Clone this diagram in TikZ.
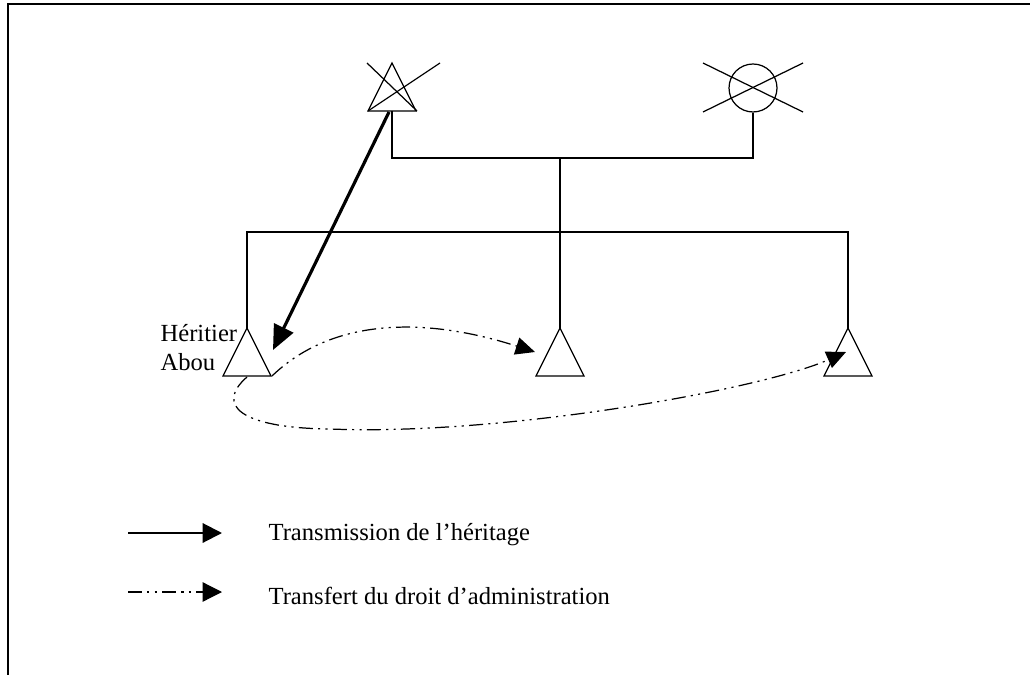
\documentclass[tikz,border=0pt]{standalone}
\usepackage{fontspec}
\setmainfont{Liberation Serif}
\usetikzlibrary{arrows.meta}

\tikzset{
    dashdotdot/.style = {dash pattern = on 8pt off 3pt on 1.2pt off 3pt on 1.2pt off 3pt},
    heritage/.style = {line width = 1.8pt, -{Triangle[length = 14pt, width = 12pt]}},
    transfert/.style = {line width = 0.7pt, dashdotdot, -{Triangle[length = 11pt, width = 10pt]}},
    every node/.append style = {font = \fontsize{14pt}{16.5pt}\selectfont}
}
\newcommand{\homme}[1]{\draw (#1) -- ++(24,48) -- ++(-48,0) -- cycle;}

\begin{document}
\begin{tikzpicture}[x = 0.02cm, y = -0.02cm, line width = 0.7pt]
    \useasboundingbox (0,0) rectangle (1030,675);
    % cadre
    \draw[line width = 1.1pt] (1030,4) -- (8,4) -- (8,675);

    % grands-parents (decedes)
    \coordinate (grandpere) at (392,63);
    \coordinate (gp-pied) at (392,111);
    \homme{grandpere}
    \draw (grandpere) ++(-25,0) -- ++(50,48);
    \draw (grandpere) ++(48,0) -- ++(-72,48);
    \node[circle, draw, minimum size = 0.96cm, inner sep = 0pt] (grandmere) at (753,88) {};
    \draw ([shift = {(-50,-25)}]grandmere.center) -- ++(100,49);
    \draw ([shift = {(-50,24)}]grandmere.center) -- ++(100,-49);

    % enfants
    \coordinate (couple) at (560,158);
    \coordinate (fratrie) at (560,232);
    \coordinate (abou) at (247,328);
    \coordinate (fils2) at (560,328);
    \coordinate (fils3) at (848,328);
    \homme{abou}
    \homme{fils2}
    \homme{fils3}
    \draw (gp-pied) |- (couple) -| (grandmere.south);
    \draw (couple) -- (fratrie);
    \draw (abou) |- (fratrie) -| (fils3);
    \draw (fratrie) -- (fils2);

    \node[anchor = west, align = left, inner sep = 0pt] (heritier) at (160,348) {Héritier\\Abou};

    % fleches
    \coordinate (abou-d) at (272,376);
    \coordinate (abou-b) at (247,377);
    \coordinate (vers-abou) at (273,350);
    \coordinate (vers-fils2) at (535,352);
    \coordinate (vers-fils3) at (846,352);
    \draw[heritage] (389,112) -- (vers-abou);
    \draw[transfert] (abou-d) .. controls (330,320) and (420,315) .. (vers-fils2);
    \draw[transfert] (abou-b) .. controls (215,405) and (240,428) .. (330,429)
        .. controls (500,436) and (760,390) .. (vers-fils3);

    % legende
    \coordinate (leg1a) at (128,533);
    \coordinate (leg1b) at (222,533);
    \coordinate (leg2a) at (128,592);
    \coordinate (leg2b) at (222,592);
    \draw[line width = 1.2pt, -{Triangle[length = 11pt, width = 11pt]}] (leg1a) -- (leg1b);
    \draw[transfert, -{Triangle[length = 11pt, width = 11pt]}] (leg2a) -- (leg2b);
    \node[anchor = west, inner sep = 0pt] (leg1) at (268,535) {Transmission de l’héritage};
    \node[anchor = west, inner sep = 0pt] (leg2) at (268,596) {Transfert du droit d’administration};
\end{tikzpicture}
\end{document}
